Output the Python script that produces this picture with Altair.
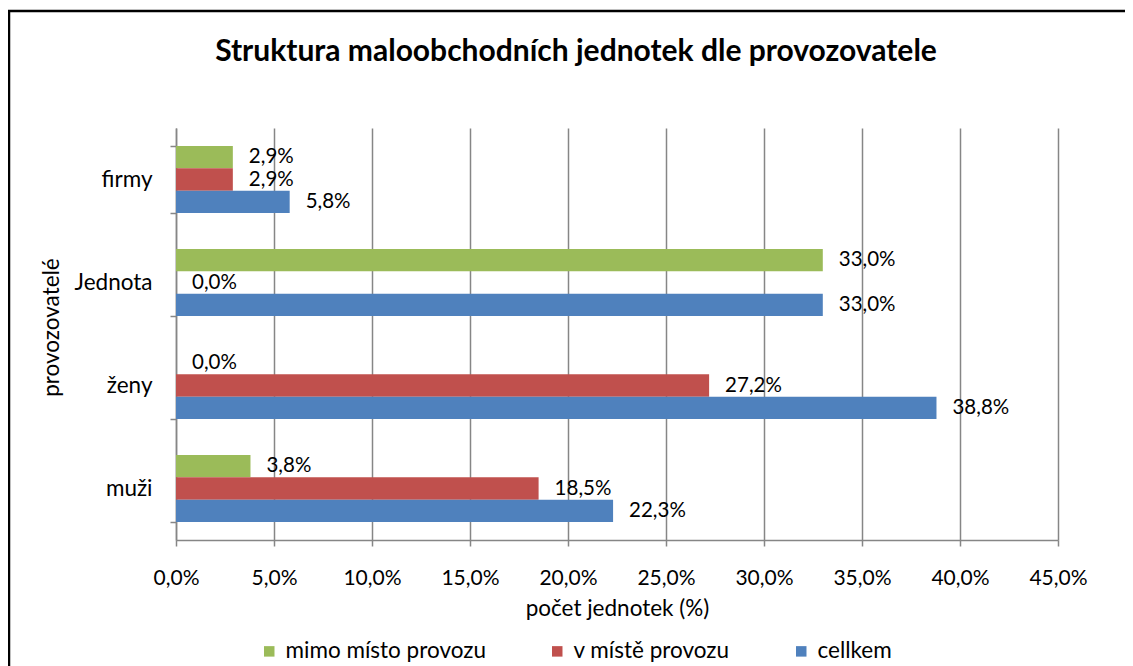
import altair as alt
import pandas as pd

# ---- data ----
categories = ["firmy", "Jednota", "ženy", "muži"]
series = ["mimo místo provozu", "v místě provozu", "cellkem"]
mimo_misto = [2.9, 33.0, 0.0, 3.8]
v_miste = [2.9, 0.0, 27.2, 18.5]
celkem = [5.8, 33.0, 38.8, 22.3]
colors = ["#9BBB59", "#C0504D", "#4F81BD"]
x_ticks = [0, 5, 10, 15, 20, 25, 30, 35, 40, 45]
chart_title = "Struktura maloobchodních jednotek dle provozovatele"
x_title = "počet jednotek (%)"
y_title = "provozovatelé"

rows = []
for i, c in enumerate(categories):
    for s, vals in zip(series, [mimo_misto, v_miste, celkem]):
        rows.append({"provozovatel": c, "serie": s, "hodnota": vals[i]})
df = pd.DataFrame(rows)

FONT = "Lato"
FS = 22.5
GREY = "#868686"
W, H = 882, 412

base = alt.Chart(df).encode(
    y=alt.Y(
        "provozovatel:N",
        sort=categories,
        scale=alt.Scale(paddingInner=0.35, paddingOuter=0.175),
        axis=alt.Axis(
            title=y_title,
            grid=False,
            tickBand="extent",
            tickSize=6,
            tickColor=GREY,
            tickWidth=1.5,
            domainColor=GREY,
            domainWidth=1.5,
            labelFont=FONT,
            labelFontSize=FS,
            labelColor="black",
            labelPadding=18,
            titleFont=FONT,
            titleFontSize=FS,
            titleFontWeight="normal",
            titleColor="black",
            titleX=-125,
            titleY=199,
            titleAngle=270,
            titleAlign="center",
            titleBaseline="middle",
        ),
    ),
    yOffset=alt.YOffset("serie:N", sort=series, scale=alt.Scale(paddingInner=0, paddingOuter=0)),
    x=alt.X(
        "hodnota:Q",
        scale=alt.Scale(domain=[0, 45], nice=False),
        axis=alt.Axis(
            title=x_title,
            values=x_ticks,
            labelExpr="replace(format(datum.value, '.1f'), '.', ',') + '%'",
            labelFlush=False,
            labelOverlap=False,
            grid=True,
            gridColor=GREY,
            gridWidth=1.5,
            tickSize=6,
            tickColor=GREY,
            tickWidth=1.5,
            domainColor=GREY,
            domainWidth=1.5,
            labelFont=FONT,
            labelFontSize=21,
            labelColor="black",
            labelPadding=21,
            titleFont=FONT,
            titleFontSize=FS,
            titleFontWeight="normal",
            titleColor="black",
            titleY=68,
            titleBaseline="middle",
        ),
    ),
)

bars = base.mark_bar().encode(
    color=alt.Color(
        "serie:N",
        sort=series,
        scale=alt.Scale(domain=series, range=colors),
        legend=alt.Legend(
            title=None,
            orient="none",
            legendX=82,
            legendY=512,
            direction="horizontal",
            symbolType="square",
            symbolSize=110,
            symbolStrokeWidth=0,
            labelFont=FONT,
            labelFontSize=FS,
            labelColor="black",
            labelOffset=5,
            labelLimit=400,
            columnPadding=60,
        ),
    )
)

labels = base.mark_text(
    align="left", baseline="middle", dx=16, font=FONT, fontSize=20.5, color="black"
).transform_calculate(
    lbl="replace(format(datum.hodnota, '.1f'), '.', ',') + '%'"
).encode(text="lbl:N")

one = alt.Data(values=[{"t": chart_title}])
title_mark = alt.Chart(one).mark_text(
    font=FONT, fontSize=30, fontWeight="bold", color="black", align="center", baseline="middle"
).encode(text="t:N", x=alt.value(400), y=alt.value(-76))

frame_top = alt.Chart(one).mark_rule(color="black", strokeWidth=2.5).encode(
    x=alt.value(-170), x2=alt.value(W + 80), y=alt.value(-117)
)
frame_left = alt.Chart(one).mark_rule(color="black", strokeWidth=2.5).encode(
    x=alt.value(-167), y=alt.value(-118), y2=alt.value(H + 140)
)

chart = alt.layer(bars, labels, title_mark, frame_top, frame_left).properties(
    width=W,
    height=H,
    padding={"left": 168, "top": 120, "right": 67, "bottom": 126},
    autosize=alt.AutoSizeParams(type="none"),
).configure_view(stroke=None)

chart.save("out.html", embed_options={"renderer": "svg", "actions": False})
